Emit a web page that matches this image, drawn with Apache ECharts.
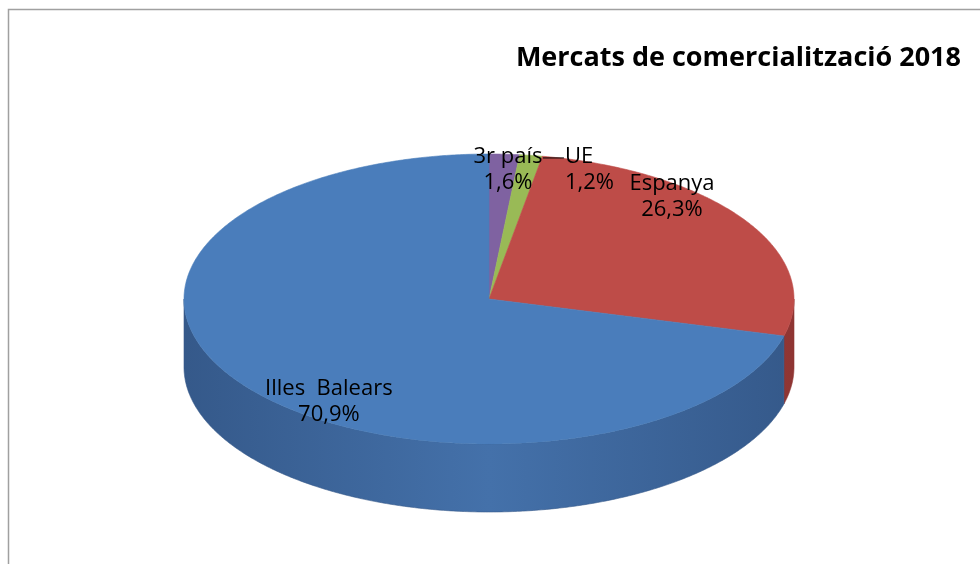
<!DOCTYPE html>
<html>
<head>
<meta charset="utf-8">
<script src="https://cdn.jsdelivr.net/npm/echarts@6/dist/echarts.min.js"></script>
<style>html,body{margin:0;padding:0;background:#fff;}#main{width:980px;height:564px;}</style>
</head>
<body>
<div id="main"></div>
<script>
// ---- data ----
const categories = ['3r país', 'UE', 'Espanya', 'Illes  Balears'];
const values = [1.6, 1.2, 26.3, 70.9];
const titleText = 'Mercats de comercialització 2018';

// ---- style / layout ----
const topColors = ['#7f62a1', '#99ba56', '#be4c48', '#4a7dbb'];
const sideColors = [
  ['#5f4a7a', '#6c5589'],
  ['#77913f', '#86a34a'],
  ['#8f3533', '#a8423f'],
  ['#35598a', '#4471aa']
];
const geo = { cx: 489, cy: 299, rx: 305, ry: 145, depth: 68 };
const labelLayout = [
  { fx: 0.062, fy: -0.89, align: 'center' },
  { fx: 0.249, fy: -0.89, align: 'left', leader: true },
  { fx: 0.60, fy: -0.703, align: 'center' },
  { fx: -0.525, fy: 0.71, align: 'center' }
];

const total = values.reduce((a, b) => a + b, 0);
function pt(a, dz) {
  return [geo.cx + geo.rx * Math.sin(a), geo.cy - geo.ry * Math.cos(a) + (dz || 0)];
}
function arc(a0, a1, dz) {
  const pts = [];
  const n = Math.max(2, Math.ceil((a1 - a0) / (Math.PI / 360)));
  for (let i = 0; i <= n; i++) pts.push(pt(a0 + (a1 - a0) * i / n, dz));
  return pts;
}
function fmt(v) { return v.toFixed(1).replace('.', ',') + '%'; }

function renderItem(params, api) {
  const idx = params.dataIndex;
  let before = 0;
  for (let i = 0; i < idx; i++) before += values[i];
  const v = api.value(0);
  const a0 = before / total * Math.PI * 2;
  const a1 = (before + v) / total * Math.PI * 2;
  const children = [];
  // side wall (front half only)
  const s = Math.max(a0, Math.PI / 2), e = Math.min(a1, Math.PI * 1.5);
  if (e > s) {
    const topArc = arc(s, e, 0);
    const botArc = arc(s, e, geo.depth).reverse();
    children.push({
      type: 'polygon', z2: 1,
      shape: { points: topArc.concat(botArc) },
      style: {
        fill: new echarts.graphic.LinearGradient(geo.cx - geo.rx, 0, geo.cx + geo.rx, 0, [
          { offset: 0, color: sideColors[idx][0] },
          { offset: 0.5, color: sideColors[idx][1] },
          { offset: 1, color: sideColors[idx][0] }
        ], true),
        stroke: sideColors[idx][0], lineWidth: 0.6
      }
    });
  }
  // top face
  const pts = [[geo.cx, geo.cy]].concat(arc(a0, a1, 0));
  children.push({
    type: 'polygon', z2: 10,
    shape: { points: pts },
    style: { fill: topColors[idx], stroke: topColors[idx], lineWidth: 0.6 }
  });
  // label
  const L = labelLayout[idx];
  const lx = geo.cx + L.fx * geo.rx, ly = geo.cy + L.fy * geo.ry;
  children.push({
    type: 'text', z2: 100,
    style: {
      text: categories[idx] + '\n' + fmt(v),
      x: lx, y: ly, align: L.align, verticalAlign: 'middle',
      fontFamily: 'Open Sans', fontSize: 22, lineHeight: 26, fill: '#000'
    }
  });
  if (L.leader) {
    children.push({
      type: 'line', z2: 100,
      shape: { x1: lx - 22, y1: ly - 12, x2: lx - 1, y2: ly - 12 },
      style: { stroke: '#000', lineWidth: 1 }
    });
  }
  return { type: 'group', children: children };
}

const chart = echarts.init(document.getElementById('main'), null, { renderer: 'canvas' });
chart.setOption({
  animation: false,
  backgroundColor: '#fff',
  title: {
    text: titleText, right: 14, top: 40,
    textStyle: { fontFamily: 'Open Sans', fontWeight: 'bold', fontSize: 27, color: '#000' }
  },
  graphic: [{
    type: 'rect', silent: true,
    shape: { x: 8.5, y: 9.5, width: 1000, height: 600 },
    style: { fill: 'none', stroke: '#a0a0a0', lineWidth: 1.5 }
  }],
  series: [{
    type: 'custom', coordinateSystem: 'none', silent: true,
    renderItem: renderItem,
    data: values.map(v => [v])
  }]
});
</script>
</body>
</html>
